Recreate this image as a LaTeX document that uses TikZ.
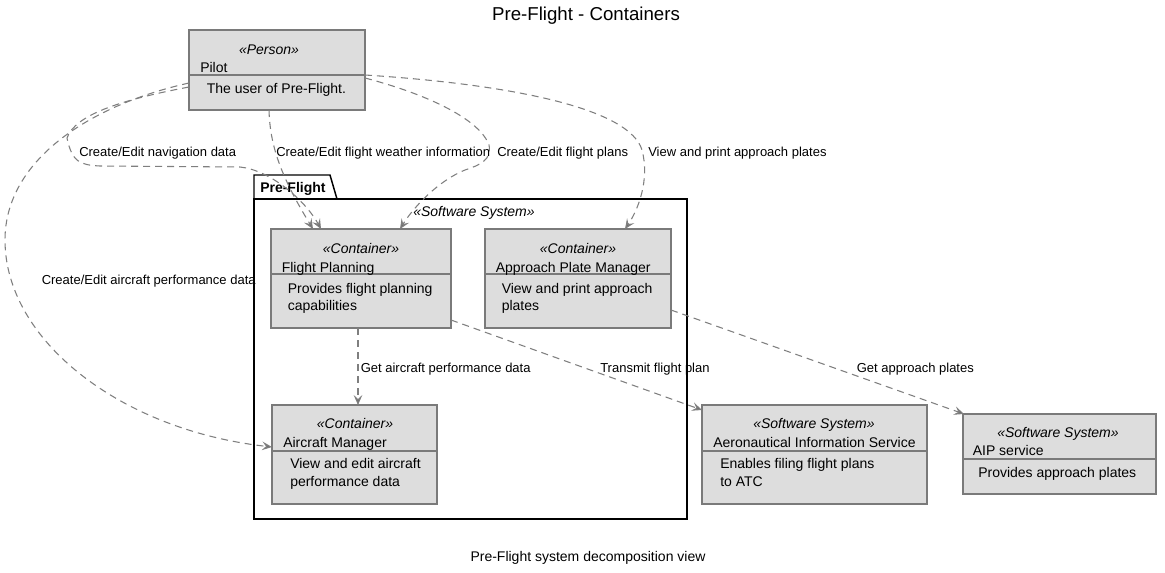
\documentclass[tikz,border=0pt]{standalone}
\usepackage{fontspec}
\setmainfont{Liberation Sans}
\usetikzlibrary{arrows.meta,calc}
\definecolor{boxfill}{HTML}{DDDDDD}
\definecolor{boxline}{HTML}{7A7A7A}
\definecolor{relline}{HTML}{7F7F7F}
\newdimen\pxu \pxu=0.75pt
\begin{document}
\begin{tikzpicture}[x=0.75pt,y=-0.75pt,
  box/.style={draw=boxline, fill=boxfill, line width=1.1pt, rectangle, anchor=north west, inner sep=0, outer sep=0},
  divline/.style={draw=boxline, line width=1pt},
  sttxt/.style={font=\fontsize{10.5}{12}\selectfont\itshape, inner sep=0, anchor=base},
  nmtxt/.style={font=\fontsize{10.5}{12}\selectfont, inner sep=0, anchor=base west},
  dstxt/.style={font=\fontsize{10.5}{12}\selectfont, inner sep=0, anchor=base west},
  lbl/.style={font=\fontsize{9.75}{11}\selectfont, inner sep=0, anchor=base west},
  rel/.style={draw=relline, line width=0.8pt, dash pattern=on 5.25pt off 3.75pt,
    -{Stealth[length=7.5pt,width=6.5pt,inset=3pt,fill=relline!85!black]}},
  pkg/.style={draw=black, line width=1.1pt}
]
\useasboundingbox (0,0) rectangle (1165,572);

% title and caption
\node[font=\fontsize{14}{16}\selectfont, inner sep=0, anchor=base] (title) at (586,20) {Pre-Flight - Containers};
\node[font=\fontsize{10.5}{12}\selectfont, inner sep=0, anchor=base] (caption) at (588,561) {Pre-Flight system decomposition view};

% package
\draw[pkg] (254,199) -- (254,175) -- (330,175) -- (337,199);
\draw[pkg] (254,199) rectangle (687,519);
\node[font=\fontsize{10.5}{12}\selectfont\bfseries, inner sep=0, anchor=base west] (pkglbl) at (260,192) {Pre-Flight};
\node[sttxt] (pkgst) at (474,216) {«Software System»};

% Pilot
\node[box, minimum width=176\pxu, minimum height=80\pxu] (pilot) at (189,30) {};
\draw[divline] (189,75) -- (365,75);
\node[sttxt] (pilotst) at (269,54) {«Person»};
\node[nmtxt] (pilotnm) at (200,72.5) {Pilot};
\node[dstxt] (pilotds) at (206.5,93.5) {The user of Pre-Flight.};

% Flight Planning
\node[box, minimum width=180\pxu, minimum height=99\pxu] (fp) at (271,229) {};
\draw[divline] (271,274) -- (451,274);
\node[sttxt] (fpst) at (361,253) {«Container»};
\node[nmtxt] (fpnm) at (281.5,272) {Flight Planning};
\node[dstxt] (fpd1) at (287.5,293) {Provides flight planning};
\node[dstxt] (fpd2) at (287.5,310.5) {capabilities};

% Approach Plate Manager
\node[box, minimum width=186\pxu, minimum height=99\pxu] (apm) at (485,229) {};
\draw[divline] (485,274) -- (671,274);
\node[sttxt] (apmst) at (578,253) {«Container»};
\node[nmtxt] (apmnm) at (495.5,272) {Approach Plate Manager};
\node[dstxt] (apmd1) at (501.5,293) {View and print approach};
\node[dstxt] (apmd2) at (501.5,310.5) {plates};

% Aircraft Manager
\node[box, minimum width=165\pxu, minimum height=99\pxu] (am) at (272,405) {};
\draw[divline] (272,451) -- (437,451);
\node[sttxt] (amst) at (355,428.5) {«Container»};
\node[nmtxt] (amnm) at (283,447.5) {Aircraft Manager};
\node[dstxt] (amd1) at (290,468.5) {View and edit aircraft};
\node[dstxt] (amd2) at (290,486) {performance data};

% AIS
\node[box, minimum width=225\pxu, minimum height=99\pxu] (ais) at (702,405) {};
\draw[divline] (702,451) -- (927,451);
\node[sttxt] (aisst) at (814,428.5) {«Software System»};
\node[nmtxt] (aisnm) at (713,447.5) {Aeronautical Information Service};
\node[dstxt] (aisd1) at (720,468.5) {Enables filing flight plans};
\node[dstxt] (aisd2) at (720,486) {to ATC};

% AIP
\node[box, minimum width=193\pxu, minimum height=80\pxu] (aip) at (963,414) {};
\draw[divline] (963,459) -- (1156,459);
\node[sttxt] (aipst) at (1058,437.5) {«Software System»};
\node[nmtxt] (aipnm) at (972.5,455.5) {AIP service};
\node[dstxt] (aipd1) at (978,477) {Provides approach plates};

% connectors
\draw[rel] ($(pilot.north west)+(0,53)$) .. controls (90,105) and (5,160) .. (5,240)
   .. controls (5,340) and (120,430) .. ($(am.north west)+(0,42)$);
\draw[rel] ($(pilot.north west)+(0,57)$) .. controls (120,100) and (75,115) .. (67,138)
   .. controls (72,162) and (80,165) .. (100,166) -- (240,167)
   .. controls (270,170) and (305,200) .. ($(fp.north west)+(50,0)$);
\draw[rel] ($(pilot.south west)+(80,0)$) .. controls (270,145) and (280,175) .. ($(fp.north west)+(42,0)$);
\draw[rel] ($(pilot.north east)+(0,48)$) .. controls (430,95) and (480,120) .. (489,145)
   .. controls (492,160) and (480,165) .. (465,170)
   .. controls (440,180) and (415,205) .. ($(fp.north west)+(129,0)$);
\draw[rel] ($(pilot.north east)+(0,45)$) .. controls (520,85) and (630,110) .. (642,150)
   .. controls (650,180) and (638,210) .. ($(apm.north west)+(140,0)$);
\draw[rel] ($(fp.south west)+(87,0)$) -- ($(am.north west)+(86,0)$);
\draw[rel] ($(fp.south east)+(0,-8)$) -- ($(ais.north west)+(0,5)$);
\draw[rel] ($(apm.south east)+(0,-18)$) -- ($(aip.north west)+(1,0)$);

% labels
\node[lbl] (l1) at (79,156) {Create/Edit navigation data};
\node[lbl] (l2) at (276,156) {Create/Edit flight weather information};
\node[lbl] (l3) at (497,156) {Create/Edit flight plans};
\node[lbl] (l4) at (648,156) {View and print approach plates};
\node[lbl] (l5) at (41.5,284) {Create/Edit aircraft performance data};
\node[lbl] (l6) at (360.5,372) {Get aircraft performance data};
\node[lbl] (l7) at (600,372) {Transmit flight plan};
\node[lbl] (l8) at (856.5,372) {Get approach plates};
\end{tikzpicture}
\end{document}
